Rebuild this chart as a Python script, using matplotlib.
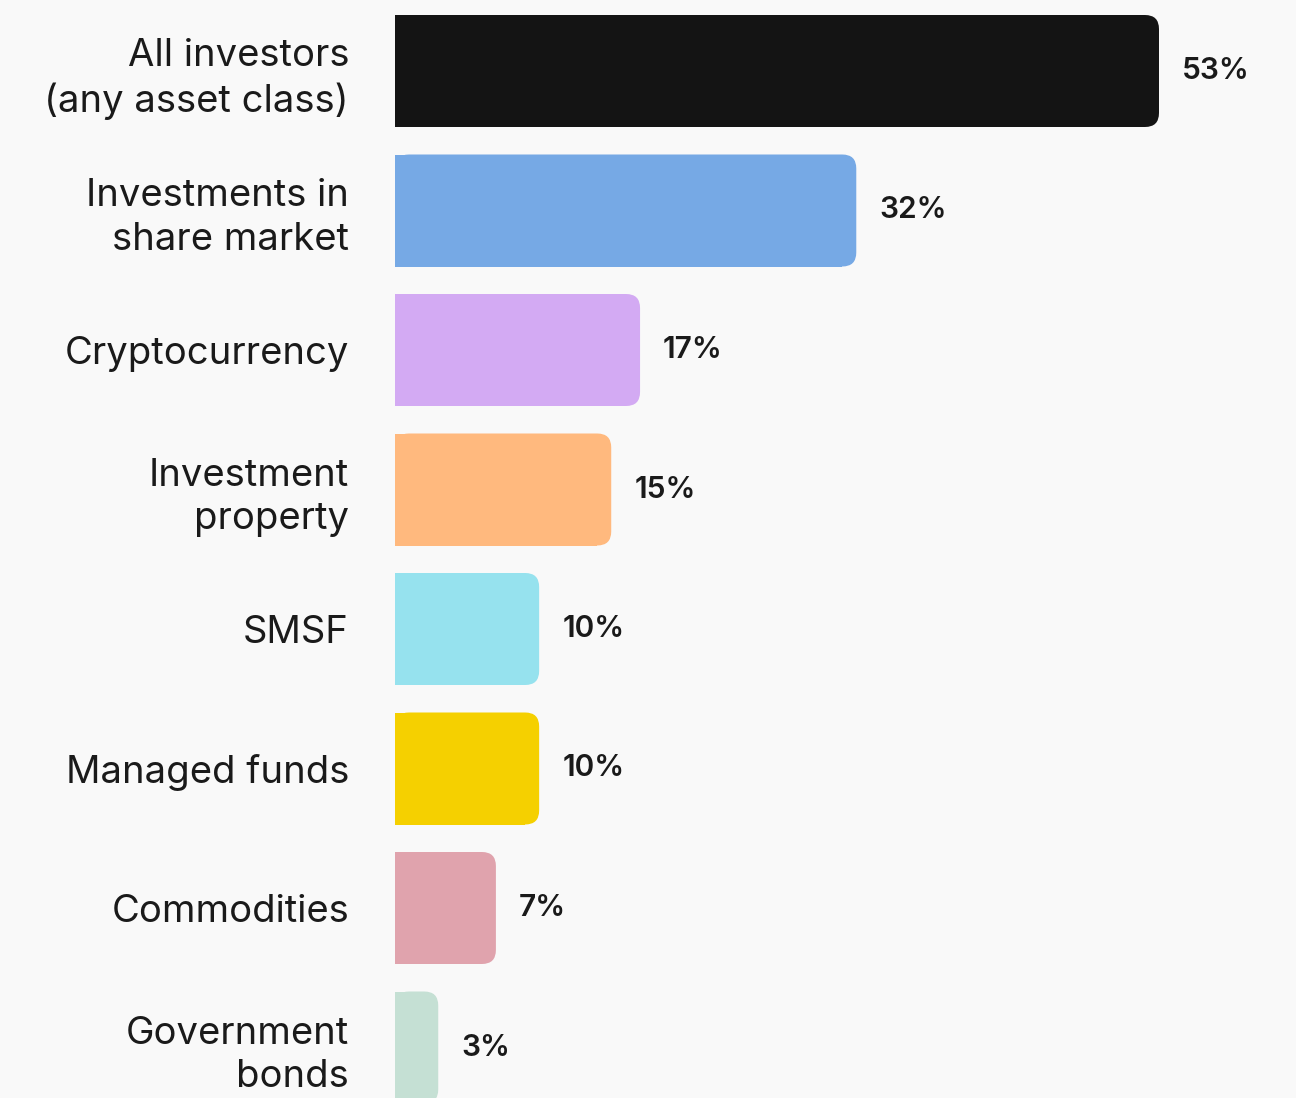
import matplotlib
matplotlib.use('Agg')
import matplotlib.pyplot as plt
from matplotlib.patches import FancyBboxPatch, Rectangle

plt.rcParams['font.family'] = ['Inter', 'DejaVu Sans']

categories = ['All investors\n(any asset class)', 'Investments in\nshare market',
              'Cryptocurrency', 'Investment\nproperty', 'SMSF', 'Managed funds',
              'Commodities', 'Government\nbonds']
values = [53, 32, 17, 15, 10, 10, 7, 3]
colors = ['#141414', '#76a9e5', '#d3aaf3', '#ffb97e', '#96e2ee', '#f5d000',
          '#e0a3ad', '#c5e0d4']

BG = '#f9f9f9'
TXT = '#1a1a1a'
DPI = 100
W, H = 1296, 1098

fig = plt.figure(figsize=(W / DPI, H / DPI), dpi=DPI, facecolor=BG)
# axes spans from the bar baseline to the right edge, full height
x0 = 395
ax = fig.add_axes([x0 / W, 0, 1 - x0 / W, 1])
ax.set_facecolor(BG)

px_per_unit_x = 14.415          # pixels per percentage point
row_pitch = 139.5               # pixels per row
first_centre = 71
ax.set_xlim(0, (W - x0) / px_per_unit_x)
ax.set_ylim((H - first_centre) / row_pitch, -first_centre / row_pitch)

bar_h = 112 / row_pitch
r_px = 14
rx = r_px / px_per_unit_x
aspect = px_per_unit_x / row_pitch

for i, (v, c) in enumerate(zip(values, colors)):
    y = i - bar_h / 2
    # rounded box for the right end, plain rectangle squares off the left end
    ax.add_patch(FancyBboxPatch((0, y), v, bar_h,
                                boxstyle=f'round,pad=0,rounding_size={rx}',
                                mutation_aspect=aspect, fc=c, ec='none'))
    ax.add_patch(Rectangle((0, y), v - rx, bar_h, fc=c, ec='none'))
    ax.annotate(f'{v}%', xy=(v, i), xytext=(23 * 72 / DPI, 0),
                textcoords='offset points', ha='left', va='center',
                fontsize=21.5, fontweight='semibold', color=TXT)

ax.set_yticks(range(len(categories)))
ax.set_yticklabels(categories, fontsize=27.5, color=TXT, linespacing=1.27)
ax.tick_params(axis='y', length=0, pad=46 * 72 / DPI)
ax.set_xticks([])
for s in ax.spines.values():
    s.set_visible(False)

fig.savefig('out.png', dpi=DPI, facecolor=BG)
